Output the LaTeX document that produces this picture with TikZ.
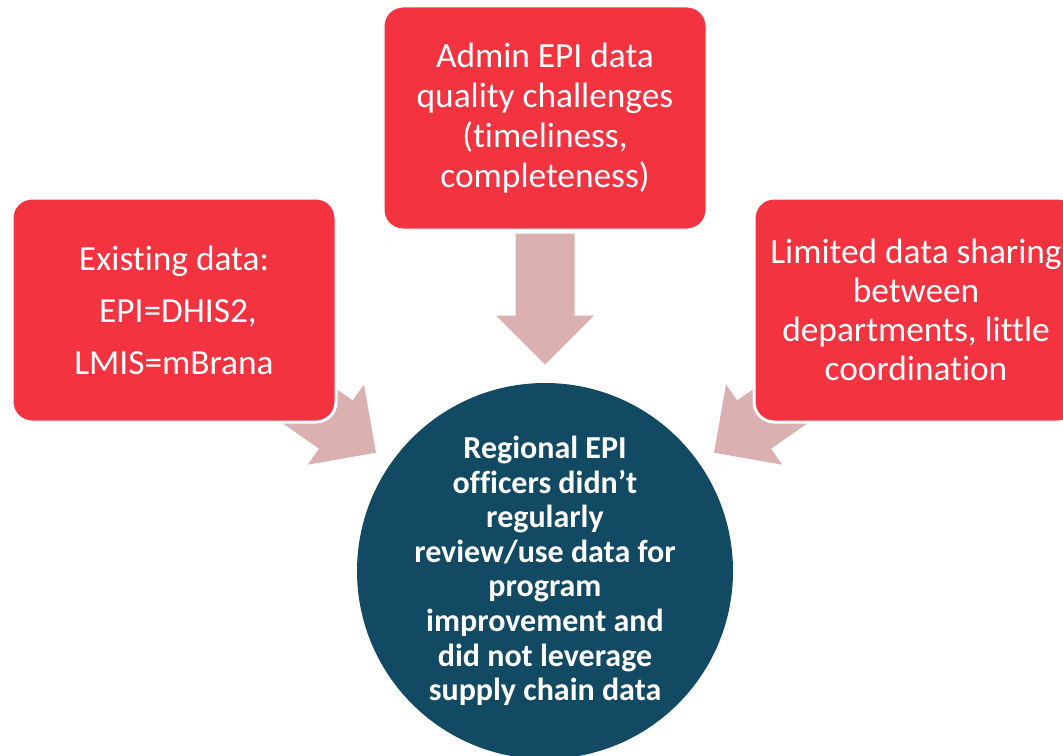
\documentclass[tikz,border=0pt]{standalone}
\usepackage{fontspec}
\setmainfont{Carlito}[Ligatures={TeX,NoCommon}]
\usetikzlibrary{calc}

\definecolor{boxred}{RGB}{244,51,64}
\definecolor{hubblue}{RGB}{19,74,99}
\definecolor{arrowpink}{RGB}{219,176,176}

\tikzset{
  causebox/.style={draw=white, line width=2.25pt, fill=boxred, rounded corners=15pt,
    minimum width=243pt, minimum height=168pt, inner sep=0pt, text=white, align=center},
  hub/.style={circle, fill=hubblue, minimum size=282pt, inner sep=0pt, text=white,
    align=center, font=\fontsize{24}{25.9}\selectfont\bfseries},
  blockarrow/.style={fill=arrowpink}
}

\begin{document}
\begin{tikzpicture}[x=0.75pt,y=0.75pt,yscale=-1,xscale=1]
        \useasboundingbox (0,0) rectangle (1063,756);
        %Circle: problem
        \node [hub] (hub) at (545,571) {Regional EPI\\officers didn’t\\regularly\\review/use data for\\program\\improvement and\\did not leverage\\supply chain data};
        %Arrow tips, just off the circle
        \coordinate (tipT) at ($(hub.center)!1.096!(hub.north)$);
        \coordinate (tipL) at ($(hub.center)!1.096!(hub.145)$);
        \coordinate (tipR) at ($(hub.center)!1.096!(hub.35)$);
        %Block arrows
        \fill [blockarrow, shift={(tipT)}, rotate=0] (0,0) -- (-49,-49) -- (-29.5,-49) -- (-29.5,-131) -- (29.5,-131) -- (29.5,-49) -- (49,-49) -- cycle ;
        \fill [blockarrow, shift={(tipL)}, rotate=-55] (0,0) -- (-49,-49) -- (-29.5,-49) -- (-29.5,-131) -- (29.5,-131) -- (29.5,-49) -- (49,-49) -- cycle ;
        \fill [blockarrow, shift={(tipR)}, rotate=55] (0,0) -- (-49,-49) -- (-29.5,-49) -- (-29.5,-131) -- (29.5,-131) -- (29.5,-49) -- (49,-49) -- cycle ;
        %Rounded boxes: causes
        \node [causebox, font=\fontsize{26.5}{30}\selectfont] (admin) at (545,118) {Admin EPI data\\quality challenges\\(timeliness,\\completeness)};
        \node [causebox, font=\fontsize{26.5}{39}\selectfont] (existing) at (174,310) {Existing data:\\~EPI=DHIS2,\\LMIS=mBrana};
        \node [causebox, font=\fontsize{26.5}{29.2}\selectfont] (sharing) at (916,310) {Limited data sharing\\between\\departments, little\\coordination};
\end{tikzpicture}
\end{document}
